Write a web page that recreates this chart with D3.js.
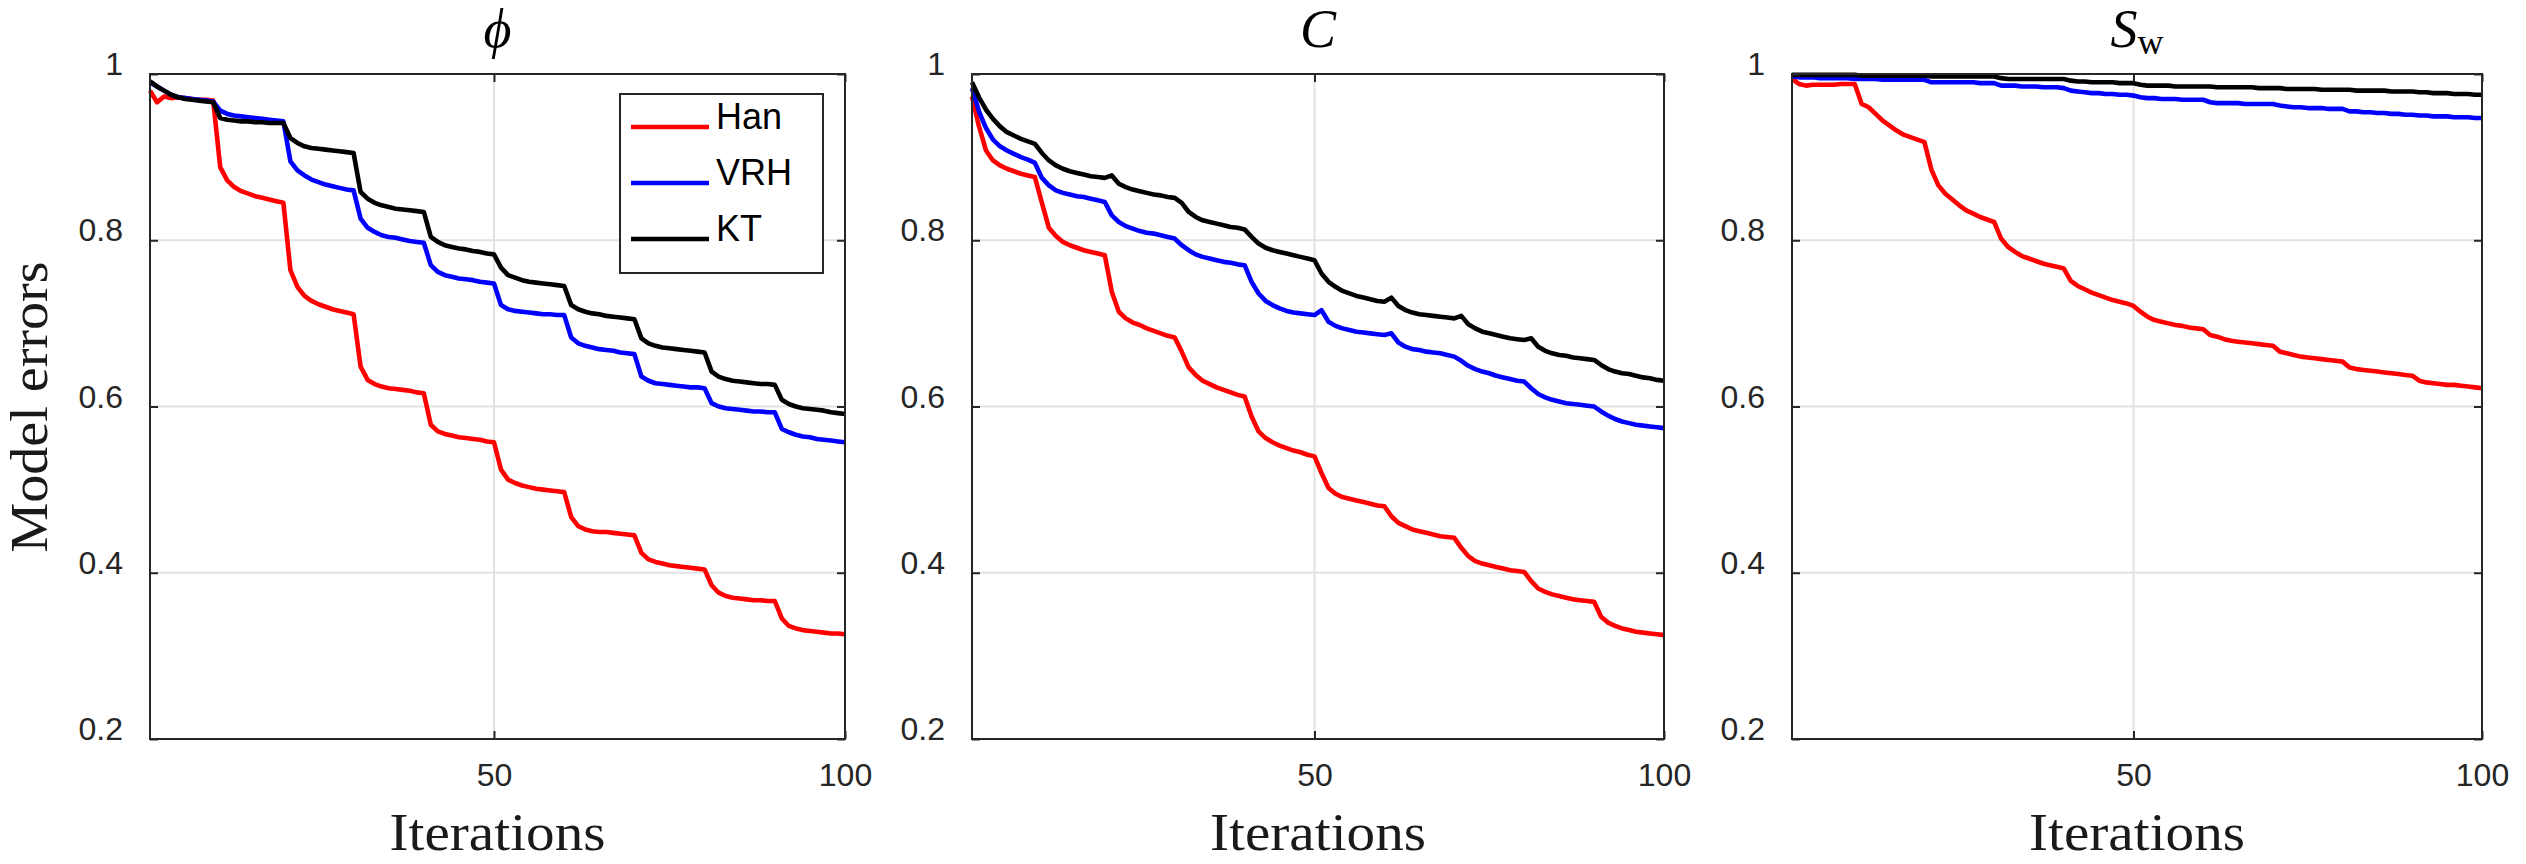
<!DOCTYPE html>
<html><head><meta charset="utf-8">
<script src="https://cdn.jsdelivr.net/npm/d3@7"></script>
<style>body{margin:0;background:#fff;} svg{display:block;}</style>
</head><body>
<script>
// ---------------- data ----------------
const iterations = d3.range(1, 101);
const yTicks = [0.2, 0.4, 0.6, 0.8, 1];
const xTicks = [50, 100];
const gridY = [0.4, 0.6, 0.8];
const gridX = [50];
const seriesNames = ["Han", "VRH", "KT"];
const seriesColors = ["#ff0000", "#0000ff", "#000000"];
const yLabel = "Model errors";
const xLabel = "Iterations";

const phiHan = [0.980,0.966,0.973,0.971,0.972,0.971,0.970,0.969,0.969,0.968,
0.888,0.872,0.864,0.859,0.856,0.853,0.851,0.849,0.847,0.845,
0.764,0.744,0.733,0.727,0.723,0.720,0.717,0.715,0.713,0.711,
0.648,0.632,0.627,0.624,0.622,0.621,0.620,0.619,0.617,0.616,
0.578,0.570,0.567,0.565,0.563,0.562,0.561,0.560,0.558,0.557,
0.524,0.512,0.508,0.505,0.503,0.501,0.500,0.499,0.498,0.497,
0.467,0.456,0.452,0.450,0.449,0.449,0.448,0.447,0.446,0.445,
0.424,0.416,0.413,0.411,0.409,0.408,0.407,0.406,0.405,0.404,
0.385,0.376,0.372,0.370,0.369,0.368,0.367,0.367,0.366,0.366,
0.345,0.336,0.333,0.331,0.330,0.329,0.328,0.327,0.327,0.326];
const phiVRH = [0.990,0.985,0.980,0.975,0.972,0.971,0.970,0.969,0.968,0.967,
0.956,0.952,0.950,0.949,0.948,0.947,0.946,0.945,0.944,0.943,
0.895,0.884,0.878,0.873,0.870,0.867,0.865,0.863,0.861,0.860,
0.826,0.815,0.810,0.806,0.804,0.803,0.801,0.799,0.798,0.797,
0.770,0.762,0.758,0.756,0.754,0.753,0.752,0.750,0.749,0.748,
0.722,0.717,0.715,0.714,0.713,0.712,0.711,0.711,0.710,0.710,
0.683,0.676,0.673,0.671,0.669,0.668,0.667,0.665,0.664,0.663,
0.636,0.631,0.628,0.627,0.626,0.625,0.624,0.623,0.623,0.622,
0.604,0.600,0.598,0.597,0.596,0.595,0.594,0.594,0.593,0.593,
0.573,0.569,0.566,0.564,0.563,0.561,0.560,0.559,0.558,0.557];
const phiKT = [0.991,0.985,0.980,0.975,0.972,0.970,0.969,0.968,0.967,0.966,
0.947,0.945,0.944,0.943,0.943,0.942,0.942,0.941,0.941,0.941,
0.923,0.917,0.913,0.911,0.910,0.909,0.908,0.907,0.906,0.905,
0.858,0.850,0.845,0.842,0.840,0.838,0.837,0.836,0.835,0.834,
0.804,0.798,0.794,0.792,0.790,0.789,0.787,0.786,0.784,0.783,
0.767,0.758,0.755,0.752,0.750,0.749,0.748,0.747,0.746,0.745,
0.722,0.717,0.714,0.712,0.711,0.709,0.708,0.707,0.706,0.705,
0.682,0.676,0.673,0.671,0.670,0.669,0.668,0.667,0.666,0.665,
0.642,0.636,0.633,0.631,0.630,0.629,0.628,0.627,0.627,0.626,
0.608,0.603,0.600,0.598,0.597,0.596,0.595,0.593,0.592,0.591];

const cHan = [0.973,0.937,0.908,0.896,0.890,0.886,0.883,0.880,0.878,0.876,
0.845,0.815,0.805,0.798,0.794,0.791,0.788,0.786,0.784,0.782,
0.738,0.714,0.706,0.701,0.698,0.694,0.691,0.688,0.685,0.683,
0.666,0.647,0.638,0.631,0.627,0.623,0.620,0.617,0.614,0.612,
0.588,0.570,0.562,0.557,0.553,0.550,0.547,0.545,0.542,0.540,
0.520,0.502,0.495,0.491,0.489,0.487,0.485,0.483,0.481,0.480,
0.468,0.460,0.456,0.452,0.450,0.448,0.446,0.444,0.443,0.442,
0.430,0.420,0.414,0.411,0.409,0.407,0.405,0.403,0.402,0.401,
0.390,0.381,0.377,0.374,0.372,0.370,0.368,0.367,0.366,0.365,
0.347,0.340,0.336,0.333,0.331,0.329,0.328,0.327,0.326,0.325];
const cVRH = [0.983,0.955,0.935,0.921,0.913,0.908,0.904,0.900,0.897,0.893,
0.875,0.866,0.860,0.857,0.855,0.853,0.852,0.850,0.848,0.846,
0.830,0.822,0.817,0.814,0.811,0.809,0.808,0.806,0.804,0.802,
0.794,0.788,0.783,0.780,0.778,0.776,0.774,0.773,0.771,0.770,
0.750,0.736,0.727,0.722,0.718,0.715,0.713,0.712,0.711,0.710,
0.716,0.702,0.697,0.694,0.692,0.690,0.689,0.688,0.687,0.686,
0.688,0.677,0.672,0.669,0.668,0.666,0.665,0.664,0.662,0.660,
0.655,0.649,0.645,0.642,0.640,0.637,0.635,0.633,0.631,0.630,
0.622,0.615,0.611,0.608,0.606,0.604,0.603,0.602,0.601,0.600,
0.594,0.589,0.585,0.582,0.580,0.578,0.577,0.576,0.575,0.574];
const cKT = [0.990,0.972,0.957,0.946,0.937,0.930,0.926,0.922,0.919,0.916,
0.905,0.896,0.890,0.886,0.883,0.881,0.879,0.877,0.876,0.875,
0.878,0.868,0.864,0.861,0.859,0.857,0.855,0.854,0.852,0.851,
0.845,0.834,0.828,0.824,0.822,0.820,0.818,0.816,0.815,0.813,
0.804,0.796,0.791,0.788,0.786,0.784,0.782,0.780,0.778,0.776,
0.760,0.750,0.744,0.739,0.736,0.733,0.731,0.729,0.727,0.726,
0.731,0.721,0.716,0.713,0.711,0.710,0.709,0.708,0.707,0.706,
0.709,0.699,0.694,0.690,0.688,0.686,0.684,0.682,0.681,0.680,
0.682,0.672,0.667,0.664,0.662,0.661,0.659,0.658,0.657,0.656,
0.650,0.645,0.642,0.640,0.639,0.637,0.635,0.634,0.632,0.631];

const swHan = [0.994,0.988,0.986,0.987,0.987,0.987,0.987,0.988,0.988,0.988,
0.964,0.960,0.952,0.944,0.938,0.932,0.927,0.924,0.921,0.918,
0.885,0.866,0.856,0.849,0.842,0.836,0.832,0.828,0.825,0.822,
0.802,0.792,0.786,0.781,0.778,0.775,0.772,0.770,0.768,0.766,
0.751,0.745,0.741,0.737,0.734,0.731,0.728,0.726,0.724,0.721,
0.714,0.708,0.704,0.702,0.700,0.698,0.697,0.695,0.694,0.693,
0.686,0.684,0.681,0.679,0.678,0.677,0.676,0.675,0.674,0.673,
0.666,0.664,0.662,0.660,0.659,0.658,0.657,0.656,0.655,0.654,
0.647,0.645,0.644,0.643,0.642,0.641,0.640,0.639,0.638,0.637,
0.631,0.629,0.628,0.627,0.626,0.626,0.625,0.624,0.623,0.622];
const swVRH = [0.997,0.996,0.996,0.996,0.995,0.995,0.995,0.995,0.995,0.994,
0.994,0.994,0.994,0.993,0.993,0.993,0.993,0.993,0.993,0.993,
0.990,0.990,0.990,0.990,0.990,0.990,0.990,0.989,0.989,0.989,
0.986,0.986,0.986,0.985,0.985,0.985,0.984,0.984,0.984,0.983,
0.980,0.979,0.978,0.977,0.977,0.976,0.976,0.975,0.975,0.974,
0.972,0.971,0.971,0.970,0.970,0.970,0.969,0.969,0.969,0.969,
0.966,0.965,0.965,0.965,0.965,0.964,0.964,0.964,0.964,0.964,
0.962,0.961,0.960,0.960,0.959,0.959,0.959,0.958,0.958,0.958,
0.955,0.955,0.954,0.954,0.953,0.953,0.952,0.952,0.951,0.951,
0.950,0.950,0.949,0.949,0.949,0.948,0.948,0.948,0.947,0.947];
const swKT = [0.999,0.999,0.999,0.999,0.999,0.999,0.999,0.999,0.999,0.999,
0.998,0.998,0.998,0.998,0.998,0.998,0.998,0.998,0.998,0.998,
0.997,0.997,0.997,0.997,0.997,0.997,0.997,0.997,0.997,0.997,
0.995,0.994,0.994,0.994,0.994,0.994,0.994,0.994,0.994,0.994,
0.992,0.991,0.991,0.990,0.990,0.990,0.990,0.989,0.989,0.989,
0.987,0.986,0.986,0.986,0.986,0.985,0.985,0.985,0.985,0.985,
0.985,0.984,0.984,0.984,0.984,0.984,0.984,0.983,0.983,0.983,
0.983,0.982,0.982,0.982,0.982,0.982,0.981,0.981,0.981,0.981,
0.981,0.980,0.980,0.980,0.980,0.980,0.979,0.979,0.979,0.979,
0.978,0.978,0.977,0.977,0.977,0.976,0.976,0.976,0.975,0.975];

const panelSeries = [[phiHan, phiVRH, phiKT], [cHan, cVRH, cKT], [swHan, swVRH, swKT]];

// ---------------- layout ----------------
const W = 2526, H = 864;
const plotTop = 74, plotBottom = 739;
const panels = [{l:150, r:845}, {l:972, r:1664}, {l:1792, r:2482}];
const axisColor = "#262626";
const sans = "'Liberation Sans', Arial, sans-serif";
const serif = "'Liberation Serif', 'DejaVu Serif', serif";

const svg = d3.select("body").append("svg").attr("width", W).attr("height", H)
  .style("background", "#fff");

const y = d3.scaleLinear().domain([0.2, 1]).range([plotBottom, plotTop]);

panels.forEach((p, pi) => {
  const x = d3.scaleLinear().domain([1, 100]).range([p.l, p.r]);
  const g = svg.append("g");
  const w = p.r - p.l, h = plotBottom - plotTop;

  // grid
  g.append("g").selectAll("line").data(gridY).join("line")
    .attr("x1", p.l).attr("x2", p.r).attr("y1", d => y(d)).attr("y2", d => y(d))
    .attr("stroke", "#e2e2e2").attr("stroke-width", 2);
  g.append("g").selectAll("line").data(gridX).join("line")
    .attr("x1", d => x(d)).attr("x2", d => x(d)).attr("y1", plotTop).attr("y2", plotBottom)
    .attr("stroke", "#e2e2e2").attr("stroke-width", 2);

  // series
  const line = d3.line().x((d, i) => x(iterations[i])).y(d => y(d));
  panelSeries[pi].forEach((vals, si) => {
    g.append("path").datum(vals).attr("d", line)
      .attr("fill", "none").attr("stroke", seriesColors[si])
      .attr("stroke-width", 4.6).attr("stroke-linejoin", "round").attr("stroke-linecap", "butt");
  });

  // axes (inward ticks)
  const tickLen = 8;
  const ax = (axis, tx, ty) => {
    const a = g.append("g").attr("transform", `translate(${tx},${ty})`).call(axis);
    a.select(".domain").remove();
    a.selectAll(".tick line").attr("stroke", axisColor).attr("stroke-width", 2);
    return a;
  };
  const la = ax(d3.axisLeft(y).tickValues(yTicks).tickSize(-tickLen).tickPadding(27).tickFormat(d => String(d)), p.l, 0);
  la.selectAll("text").attr("font-family", sans).attr("font-size", 32).attr("fill", axisColor).attr("dy", "0.02em");
  ax(d3.axisRight(y).tickValues(yTicks).tickSize(-tickLen).tickFormat(""), p.r, 0);
  const ba = ax(d3.axisBottom(x).tickValues(xTicks).tickSize(-tickLen).tickPadding(24).tickFormat(d => String(d)), 0, plotBottom);
  ba.selectAll("text").attr("font-family", sans).attr("font-size", 32).attr("fill", axisColor);
  ax(d3.axisTop(x).tickValues(xTicks).tickSize(-tickLen).tickFormat(""), 0, plotTop);

  // frame
  g.append("rect").attr("x", p.l).attr("y", plotTop).attr("width", w).attr("height", h)
    .attr("fill", "none").attr("stroke", axisColor).attr("stroke-width", 2);

  // x label
  g.append("text").attr("x", (p.l + p.r) / 2).attr("y", 850).attr("text-anchor", "middle")
    .attr("font-family", serif).attr("font-size", 52).attr("fill", "#1a1a1a")
    .attr("textLength", 216).attr("lengthAdjust", "spacingAndGlyphs").text(xLabel);

  // title
  const t = g.append("text").attr("x", (p.l + p.r) / 2).attr("y", 47).attr("text-anchor", "middle")
    .attr("font-family", serif).attr("font-size", 54).attr("fill", "#000");
  if (pi === 0) {
    t.append("tspan").attr("font-style", "italic").text("\u03D5");
  } else if (pi === 1) {
    t.append("tspan").attr("font-style", "italic").text("C");
  } else {
    t.append("tspan").attr("font-style", "italic").text("S");
    t.append("tspan").attr("font-size", 36).attr("dy", 7).text("w");
  }
});

// y label
svg.append("text").attr("transform", "translate(47,407) rotate(-90)")
  .attr("text-anchor", "middle").attr("font-family", serif).attr("font-size", 53)
  .attr("fill", "#1a1a1a").attr("textLength", 291).attr("lengthAdjust", "spacingAndGlyphs")
  .text(yLabel);

// legend
const lg = svg.append("g");
lg.append("rect").attr("x", 620).attr("y", 94).attr("width", 203).attr("height", 179)
  .attr("fill", "#fff").attr("stroke", axisColor).attr("stroke-width", 2);
const legY = d3.scalePoint().domain(seriesNames).range([127, 239]);
seriesNames.forEach((n, i) => {
  lg.append("line").attr("x1", 631).attr("x2", 709).attr("y1", legY(n)).attr("y2", legY(n))
    .attr("stroke", seriesColors[i]).attr("stroke-width", 4.6);
  lg.append("text").attr("x", 716).attr("y", legY(n) + 2).attr("font-family", sans)
    .attr("font-size", 36).attr("fill", "#000").text(n);
});
</script>
</body></html>
